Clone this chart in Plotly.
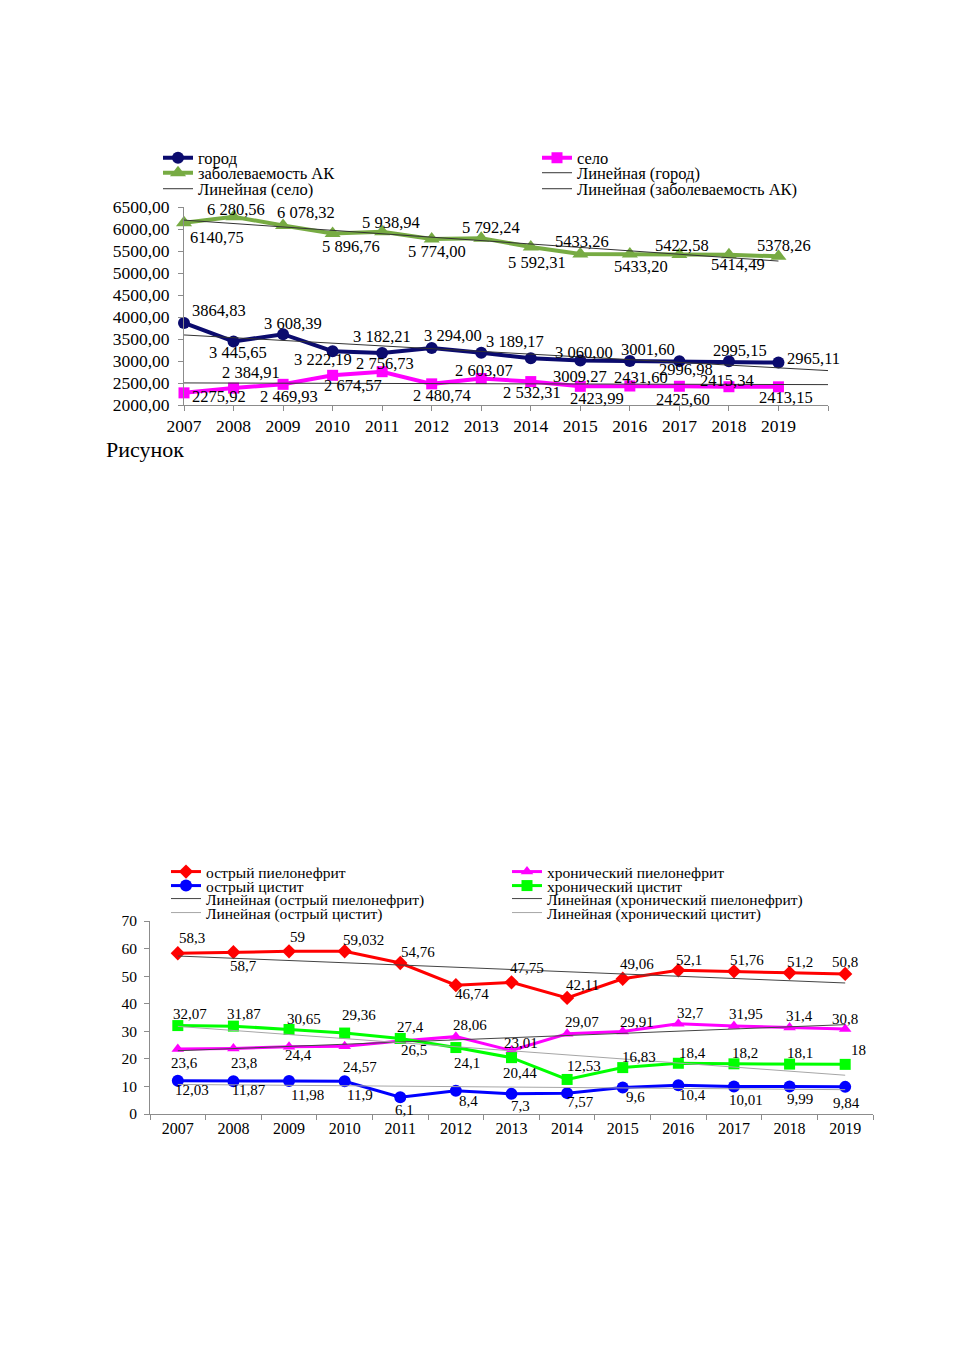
import numpy as np
import plotly.graph_objects as go

# ---------------- data: top chart ----------------
years = [2007, 2008, 2009, 2010, 2011, 2012, 2013, 2014, 2015, 2016, 2017, 2018, 2019]
year_labels = [str(y) for y in years]

city = [3864.83, 3445.65, 3608.39, 3222.19, 3182.21, 3294.00, 3189.17, 3060.00, 3009.27, 3001.60, 2996.98, 2995.15, 2965.11]
city_text = ["3864,83", "3 445,65", "3 608,39", "3 222,19", "3 182,21", "3 294,00", "3 189,17", "3 060,00", "3009,27", "3001,60", "2996,98", "2995,15", "2965,11"]

village = [2275.92, 2384.91, 2469.93, 2674.57, 2756.73, 2480.74, 2603.07, 2532.31, 2423.99, 2431.60, 2425.60, 2415.34, 2413.15]
village_text = ["2275,92", "2 384,91", "2 469,93", "2 674,57", "2 756,73", "2 480,74", "2 603,07", "2 532,31", "2423,99", "2431,60", "2425,60", "2415,34", "2413,15"]

ak = [6140.75, 6280.56, 6078.32, 5896.76, 5938.94, 5774.00, 5792.24, 5592.31, 5433.26, 5433.20, 5422.58, 5414.49, 5378.26]
ak_text = ["6140,75", "6 280,56", "6 078,32", "5 896,76", "5 938,94", "5 774,00", "5 792,24", "5 592,31", "5433,26", "5433,20", "5422,58", "5414,49", "5378,26"]

top_yticks = [2000, 2500, 3000, 3500, 4000, 4500, 5000, 5500, 6000, 6500]

# ---------------- data: bottom chart ----------------
ac_pyelo = [58.3, 58.7, 59, 59.032, 54.76, 46.74, 47.75, 42.11, 49.06, 52.1, 51.76, 51.2, 50.8]
ac_pyelo_text = ["58,3", "58,7", "59", "59,032", "54,76", "46,74", "47,75", "42,11", "49,06", "52,1", "51,76", "51,2", "50,8"]

ac_cyst = [12.03, 11.87, 11.98, 11.9, 6.1, 8.4, 7.3, 7.57, 9.6, 10.4, 10.01, 9.99, 9.84]
ac_cyst_text = ["12,03", "11,87", "11,98", "11,9", "6,1", "8,4", "7,3", "7,57", "9,6", "10,4", "10,01", "9,99", "9,84"]

ch_pyelo = [23.6, 23.8, 24.4, 24.57, 26.5, 28.06, 23.01, 29.07, 29.91, 32.7, 31.95, 31.4, 30.8]
ch_pyelo_text = ["23,6", "23,8", "24,4", "24,57", "26,5", "28,06", "23,01", "29,07", "29,91", "32,7", "31,95", "31,4", "30,8"]

ch_cyst = [32.07, 31.87, 30.65, 29.36, 27.4, 24.1, 20.44, 12.53, 16.83, 18.4, 18.2, 18.1, 18]
ch_cyst_text = ["32,07", "31,87", "30,65", "29,36", "27,4", "24,1", "20,44", "12,53", "16,83", "18,4", "18,2", "18,1", "18"]

bot_yticks = [0, 10, 20, 30, 40, 50, 60, 70]

# ---------------- label offsets in pixels (dx right, dy down) : styling only ----------------
city_off = [(35, -12), (4, 11), (10, -11), (-10, 8), (0, -16), (21, -13), (34, -11),
            (53, -6), (0, 16), (18, -11), (7, 8), (11, -11), (35, -4)]
village_off = [(35, 4), (17, -16), (6, 12), (20, 10), (3, -8), (10, 12), (3, -8),
               (1, 11), (17, 12), (11, -9), (4, 13), (-2, -6), (8, 11)]
ak_off = [(33, 15), (2, -7), (23, -13), (18, 13), (9, -9), (5, 13), (10, -11),
          (6, 16), (2, -12), (11, 13), (3, -9), (9, 10), (6, -11)]

red_off = [(14, -15), (10, 14), (8, -14), (19, -11), (18, -11), (16, 9), (15, -14),
           (15, -13), (14, -15), (11, -10), (13, -11), (10, -11), (0, -12)]
mag_off = [(7, 14), (11, 15), (9, 8), (15, 21), (14, 9), (14, -12), (9, -8),
           (15, -12), (14, -10), (12, -11), (12, -12), (10, -11), (0, -10)]
green_off = [(12, -12), (11, -12), (15, -10), (14, -18), (10, -11), (11, 15), (8, 15),
             (17, -13), (16, -11), (14, -10), (11, -11), (10, -11), (13, -14)]
blue_off = [(14, 9), (16, 9), (18, 14), (15, 14), (4, 13), (13, 10), (9, 12),
            (13, 9), (13, 9), (14, 10), (12, 14), (10, 13), (1, 16)]

SERIF = "Liberation Serif"
W, H = 954, 1350
OFF = 8  # page body margin in the browser


def px(x):
    return (x - OFF) / W


def py(y):
    return 1 - (y - OFF) / H


def trend(values, extra=0):
    idx = np.arange(len(values))
    k, b = np.polyfit(idx, values, 1)
    xi = np.arange(len(values) + extra)
    return xi, k * xi + b


fig = go.Figure()
legends = {}
_leg_count = [0]
annotations = []


def new_legend(x_px, y_px, size):
    _leg_count[0] += 1
    key = "legend" if _leg_count[0] == 1 else "legend%d" % _leg_count[0]
    legends[key] = dict(x=px(x_px), y=py(y_px), xanchor="left", yanchor="middle", orientation="v",
                        bgcolor="rgba(0,0,0,0)", itemwidth=30, tracegroupgap=0, visible=True,
                        font=dict(family=SERIF, size=size, color="black"))
    return key


def add_labels(xs, vals, texts, offs, xref, yref, size):
    for x, v, t, (dx, dy) in zip(xs, vals, texts, offs):
        annotations.append(dict(x=x, y=v, xref=xref, yref=yref, text=t, showarrow=False,
                                xanchor="center", yanchor="middle", xshift=dx, yshift=-dy,
                                font=dict(family=SERIF, size=size, color="black")))


# ---------- top chart ----------
TOP_L, TOP_R = 158, 537
TOP_LEG = 16.5
TOP_LBL = 16.5


def top_series(vals, name, color, symbol, size, leg):
    fig.add_trace(go.Scatter(
        x=years, y=vals, name=name, mode="lines+markers", showlegend=True,
        line=dict(color=color, width=4), marker=dict(symbol=symbol, size=size, color=color),
        cliponaxis=False, xaxis="x", yaxis="y", legend=leg))


def top_trend(vals, extra, name, leg):
    xi, yt = trend(vals, extra=extra)
    fig.add_trace(go.Scatter(x=[years[0] + i for i in xi], y=yt, name=name, mode="lines", showlegend=True,
                             line=dict(color="#333333", width=1), xaxis="x", yaxis="y",
                             legend=leg, cliponaxis=False))


top_series(city, "город", "#0b0b6e", "circle", 12, new_legend(TOP_L, 158, TOP_LEG))
top_series(village, "село", "#ff00ff", "square", 11, new_legend(TOP_R, 158, TOP_LEG))
top_series(ak, "заболеваемость АК", "#77ab43", "triangle-up", 14, new_legend(TOP_L, 173, TOP_LEG))
top_trend(city, 1, "Линейная (город)", new_legend(TOP_R, 173, TOP_LEG))
top_trend(village, 1, "Линейная (село)", new_legend(TOP_L, 189, TOP_LEG))
top_trend(ak, 0, "Линейная (заболеваемость АК)", new_legend(TOP_R, 189, TOP_LEG))

add_labels(years, city, city_text, city_off, "x", "y", TOP_LBL)
add_labels(years, village, village_text, village_off, "x", "y", TOP_LBL)
add_labels(years, ak, ak_text, ak_off, "x", "y", TOP_LBL)

# ---------- bottom chart ----------
BOT_L, BOT_R = 166, 507
BOT_LEG = 15.5
BOT_LBL = 15
cat_idx = list(range(len(year_labels)))  # category positions on the bottom x axis


def bot_series(vals, name, color, symbol, size, leg):
    fig.add_trace(go.Scatter(
        x=year_labels, y=vals, name=name, mode="lines+markers", showlegend=True,
        line=dict(color=color, width=3), marker=dict(symbol=symbol, size=size, color=color),
        cliponaxis=False, xaxis="x2", yaxis="y2", legend=leg))


def bot_trend(vals, name, color, leg):
    _, yt = trend(vals)
    fig.add_trace(go.Scatter(x=year_labels, y=yt, name=name, mode="lines", showlegend=True,
                             line=dict(color=color, width=1),
                             xaxis="x2", yaxis="y2", legend=leg, cliponaxis=False))


bot_series(ac_pyelo, "острый пиелонефрит", "#ff0000", "diamond", 11, new_legend(BOT_L, 872, BOT_LEG))
bot_series(ch_pyelo, "хронический пиелонефрит", "#ff00ff", "triangle-up", 11, new_legend(BOT_R, 872, BOT_LEG))
bot_series(ac_cyst, "острый цистит", "#0000ff", "circle", 12, new_legend(BOT_L, 886, BOT_LEG))
bot_series(ch_cyst, "хронический цистит", "#00ff00", "square", 11, new_legend(BOT_R, 886, BOT_LEG))
bot_trend(ac_pyelo, "Линейная (острый пиелонефрит)", "#444444", new_legend(BOT_L, 899, BOT_LEG))
bot_trend(ch_pyelo, "Линейная (хронический пиелонефрит)", "#444444", new_legend(BOT_R, 899, BOT_LEG))
bot_trend(ac_cyst, "Линейная (острый цистит)", "#a6a6a6", new_legend(BOT_L, 913, BOT_LEG))
bot_trend(ch_cyst, "Линейная (хронический цистит)", "#a6a6a6", new_legend(BOT_R, 913, BOT_LEG))

add_labels(cat_idx, ac_pyelo, ac_pyelo_text, red_off, "x2", "y2", BOT_LBL)
add_labels(cat_idx, ch_pyelo, ch_pyelo_text, mag_off, "x2", "y2", BOT_LBL)
add_labels(cat_idx, ch_cyst, ch_cyst_text, green_off, "x2", "y2", BOT_LBL)
add_labels(cat_idx, ac_cyst, ac_cyst_text, blue_off, "x2", "y2", BOT_LBL)

annotations.append(dict(text="Рисунок", x=px(104), y=py(449), xref="paper", yref="paper", xanchor="left",
                        yanchor="middle", showarrow=False, font=dict(family=SERIF, size=22, color="black")))

axis_col = "#8c8c8c"

fig.update_layout(
    width=W, height=H, margin=dict(l=0, r=0, t=0, b=0, autoexpand=False),
    paper_bgcolor="white", plot_bgcolor="white", showlegend=True,
    separators=", ",
    font=dict(family=SERIF, size=16, color="black"),
    xaxis=dict(domain=[px(184), px(828)], anchor="y", range=[2007, 2020], automargin=False,
               tickvals=years + [2020], ticktext=year_labels + [""],
               showgrid=False, zeroline=False, showline=True, linecolor=axis_col, linewidth=1,
               ticks="outside", ticklen=5, tickcolor=axis_col, tickfont=dict(family=SERIF, size=17.5)),
    yaxis=dict(domain=[py(405), py(207)], anchor="x", range=[2000, 6500], tickvals=top_yticks, automargin=False,
               tickformat=".2f", showgrid=False, zeroline=False, showline=True, linecolor=axis_col, linewidth=1,
               ticks="outside", ticklen=5, tickcolor=axis_col, ticklabelstandoff=5,
               tickfont=dict(family=SERIF, size=17.5)),
    xaxis2=dict(domain=[px(150), px(873)], anchor="y2", type="category", tickson="boundaries", automargin=False,
                range=[-0.5, 12.5], showgrid=False, zeroline=False, showline=True, linecolor=axis_col, linewidth=1,
                ticks="outside", ticklen=5, tickcolor=axis_col, tickfont=dict(family=SERIF, size=16)),
    yaxis2=dict(domain=[py(1114), py(921)], anchor="x2", range=[0, 70], tickvals=bot_yticks, automargin=False,
                showgrid=False, zeroline=False, showline=True, linecolor=axis_col, linewidth=1,
                ticks="outside", ticklen=5, tickcolor=axis_col, ticklabelstandoff=4,
                tickfont=dict(family=SERIF, size=15.5)),
    annotations=annotations,
    **legends,
)

fig.write_html("out.html")
